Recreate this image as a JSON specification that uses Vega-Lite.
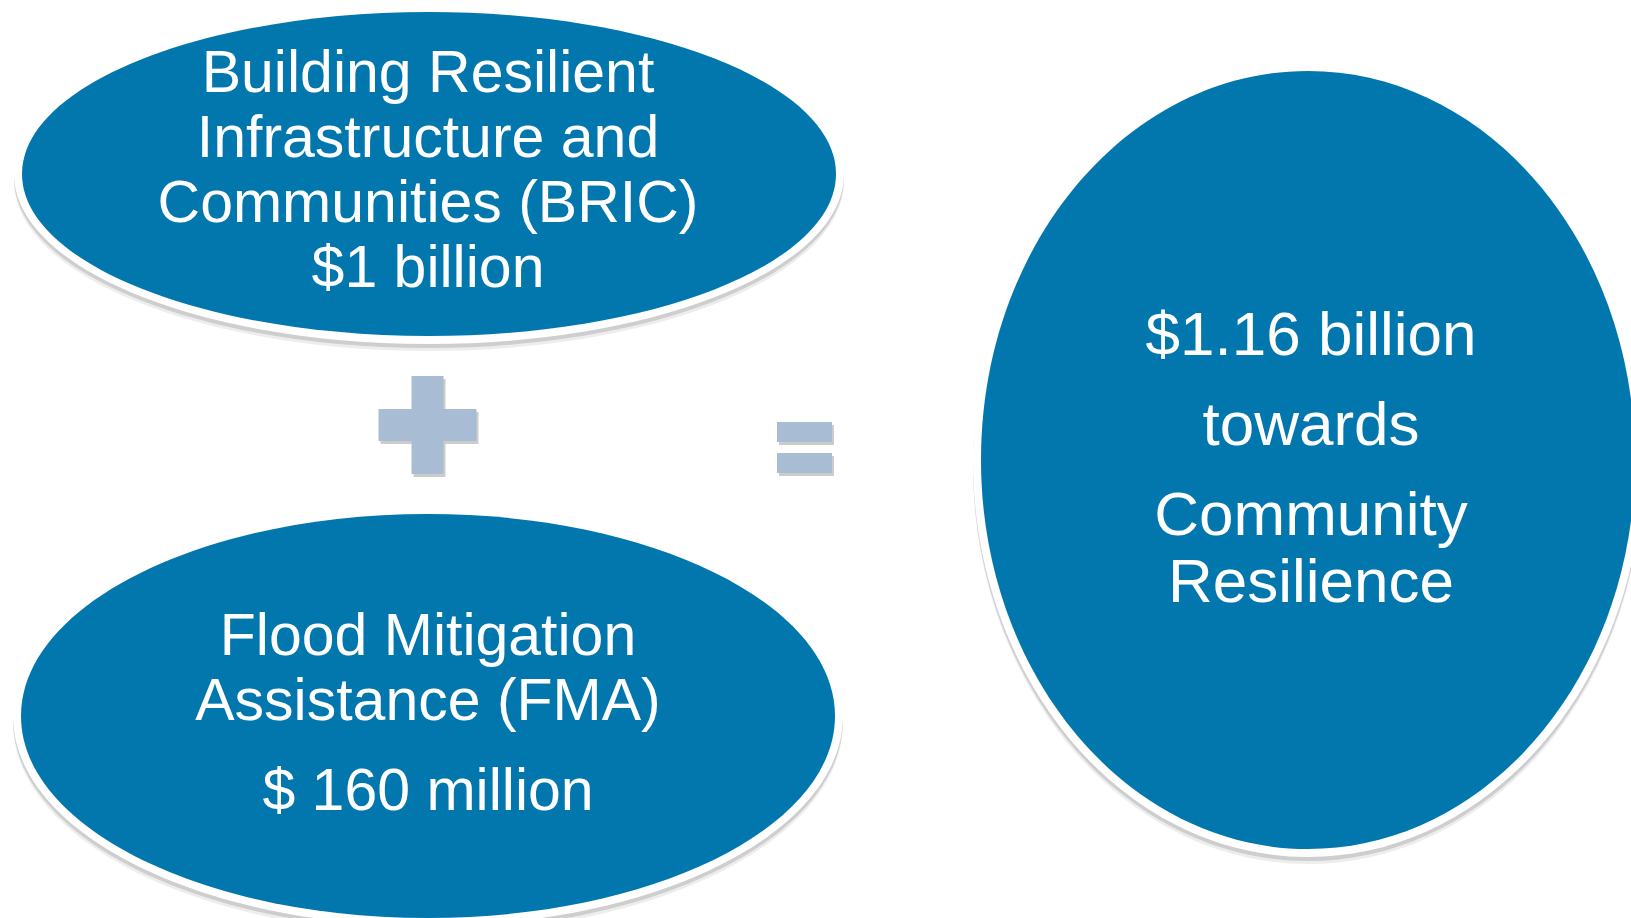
{
  "$schema": "https://vega.github.io/schema/vega-lite/v6.json",
  "width": 1631,
  "height": 918,
  "autosize": {"type": "none"},
  "padding": 0,
  "background": "white",
  "config": {"view": {"stroke": null}},
  "datasets": {
    "shapes": [
      {"id": "bric", "x": 429, "y": 174},
      {"id": "fma", "x": 428, "y": 716},
      {"id": "total", "x": 1308, "y": 460}
    ],
    "ops": [
      {"id": "plus", "x": 427.5, "y": 425},
      {"id": "equals", "x": 804.5, "y": 447.5}
    ],
    "lines": [
      {"grp": "left", "label": "Building Resilient", "x": 428, "y": 92},
      {"grp": "left", "label": "Infrastructure and", "x": 428, "y": 157},
      {"grp": "left", "label": "Communities (BRIC)", "x": 428, "y": 222},
      {"grp": "left", "label": "$1 billion", "x": 428, "y": 287},
      {"grp": "left", "label": "Flood Mitigation", "x": 428, "y": 655},
      {"grp": "left", "label": "Assistance (FMA)", "x": 428, "y": 720},
      {"grp": "left", "label": "$ 160 million", "x": 428, "y": 810},
      {"grp": "right", "label": "$1.16 billion", "x": 1311, "y": 355},
      {"grp": "right", "label": "towards", "x": 1311, "y": 445},
      {"grp": "right", "label": "Community", "x": 1311, "y": 535},
      {"grp": "right", "label": "Resilience", "x": 1311, "y": 602}
    ]
  },
  "resolve": {"scale": {"shape": "independent"}},
  "encoding": {
    "x": {"field": "x", "type": "quantitative", "scale": {"domain": [0, 1631], "nice": false, "zero": false}, "axis": null},
    "y": {"field": "y", "type": "quantitative", "scale": {"domain": [0, 918], "nice": false, "zero": false, "reverse": true}, "axis": null}
  },
  "layer": [
    {
      "data": {"name": "shapes"},
      "mark": {"type": "point", "filled": true, "size": 4, "color": "#000000", "opacity": 0.07, "yOffset": 7, "clip": true},
      "encoding": {
        "shape": {"field": "id", "type": "nominal", "legend": null, "scale": {"domain": ["bric", "fma", "total"], "range": [
          "M-415,0A415,170,0,1,0,415,0A415,170,0,1,0,-415,0Z",
          "M-415,0A415,210,0,1,0,415,0A415,210,0,1,0,-415,0Z",
          "M-335,0A335,397,0,1,0,335,0A335,397,0,1,0,-335,0Z"
        ]}}
      }
    },
    {
      "data": {"name": "shapes"},
      "mark": {"type": "point", "filled": true, "size": 4, "color": "#000000", "opacity": 0.13, "yOffset": 4, "clip": true},
      "encoding": {
        "shape": {"field": "id", "type": "nominal", "legend": null, "scale": {"domain": ["bric", "fma", "total"], "range": [
          "M-415,0A415,170,0,1,0,415,0A415,170,0,1,0,-415,0Z",
          "M-415,0A415,210,0,1,0,415,0A415,210,0,1,0,-415,0Z",
          "M-335,0A335,397,0,1,0,335,0A335,397,0,1,0,-335,0Z"
        ]}}
      }
    },
    {
      "data": {"name": "shapes"},
      "mark": {"type": "point", "filled": true, "size": 4, "color": "#ffffff", "opacity": 1, "clip": true},
      "encoding": {
        "shape": {"field": "id", "type": "nominal", "legend": null, "scale": {"domain": ["bric", "fma", "total"], "range": [
          "M-415,0A415,170,0,1,0,415,0A415,170,0,1,0,-415,0Z",
          "M-415,0A415,210,0,1,0,415,0A415,210,0,1,0,-415,0Z",
          "M-335,0A335,397,0,1,0,335,0A335,397,0,1,0,-335,0Z"
        ]}}
      }
    },
    {
      "data": {"name": "shapes"},
      "mark": {"type": "point", "filled": true, "size": 4, "color": "#0277ad", "opacity": 1, "clip": true},
      "encoding": {
        "shape": {"field": "id", "type": "nominal", "legend": null, "scale": {"domain": ["bric", "fma", "total"], "range": [
          "M-407,0A407,162,0,1,0,407,0A407,162,0,1,0,-407,0Z",
          "M-407,0A407,202,0,1,0,407,0A407,202,0,1,0,-407,0Z",
          "M-327,0A327,389,0,1,0,327,0A327,389,0,1,0,-327,0Z"
        ]}}
      }
    },
    {
      "data": {"name": "ops"},
      "mark": {"type": "point", "filled": true, "size": 4, "color": "#555555", "opacity": 0.3, "xOffset": 2, "yOffset": 3},
      "encoding": {
        "shape": {"field": "id", "type": "nominal", "legend": null, "scale": {"domain": ["plus", "equals"], "range": [
          "M-16,-49H16V-16H49V16H16V49H-16V16H-49V-16H-16Z",
          "M-27.5,-25.5H27.5V-5.5H-27.5ZM-27.5,5.5H27.5V25.5H-27.5Z"
        ]}}
      }
    },
    {
      "data": {"name": "ops"},
      "mark": {"type": "point", "filled": true, "size": 4, "color": "#a8bdd4", "opacity": 1},
      "encoding": {
        "shape": {"field": "id", "type": "nominal", "legend": null, "scale": {"domain": ["plus", "equals"], "range": [
          "M-16,-49H16V-16H49V16H16V49H-16V16H-49V-16H-16Z",
          "M-27.5,-25.5H27.5V-5.5H-27.5ZM-27.5,5.5H27.5V25.5H-27.5Z"
        ]}}
      }
    },
    {
      "data": {"name": "lines"},
      "transform": [{"filter": "datum.grp === 'left'"}],
      "mark": {"type": "text", "align": "center", "baseline": "alphabetic", "font": "Liberation Sans", "fontSize": 59, "color": "#ffffff"},
      "encoding": {"text": {"field": "label", "type": "nominal"}}
    },
    {
      "data": {"name": "lines"},
      "transform": [{"filter": "datum.grp === 'right'"}],
      "mark": {"type": "text", "align": "center", "baseline": "alphabetic", "font": "Liberation Sans", "fontSize": 62, "color": "#ffffff"},
      "encoding": {"text": {"field": "label", "type": "nominal"}}
    }
  ]
}
